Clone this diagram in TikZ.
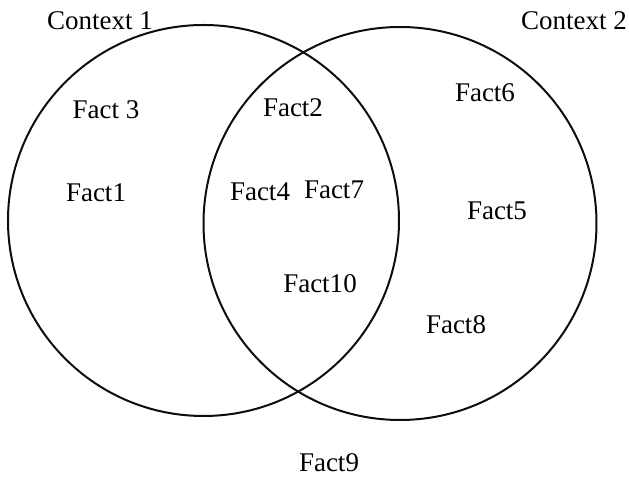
\documentclass[tikz,border=0pt]{standalone}
\usepackage{fontspec}
\setmainfont{Liberation Serif}
\usepackage{tikz}
\def\normaledge{0.8}
\definecolor{edgeblack}{rgb}{0.05,0.05,0.05}
\tikzset{fact/.style={inner sep=0pt, font=\fontsize{10.8}{13}\selectfont}}

\begin{document}
\begin{tikzpicture}[x = 0.4pt, y = -0.4pt, scale = 1]
            
            \useasboundingbox (0,0) rectangle (629,478);
            
            \node (c1) at (203.5,220.5){};
            \node (c2) at (400,223.5){};
            
            \draw [line width=\normaledge, color=edgeblack] (c1.center) circle (195.5);
            \draw [line width=\normaledge, color=edgeblack] (c2.center) circle (196.5);
            
            \node[fact] (ctx1) at (100,21){Context 1};
            \node[fact] (ctx2) at (574,21){Context 2};
            
            \node[fact] (f3) at (106,110){Fact 3};
            \node[fact] (f1) at (96,193){Fact1};
            \node[fact] (f2) at (293,108){Fact2};
            \node[fact] (f4) at (260,192){Fact4};
            \node[fact] (f7) at (334,190){Fact7};
            \node[fact] (f10) at (320,284){Fact10};
            \node[fact] (f6) at (485,93){Fact6};
            \node[fact] (f5) at (497,211){Fact5};
            \node[fact] (f8) at (456,325){Fact8};
            \node[fact] (f9) at (329,463){Fact9};
            
        \end{tikzpicture}
\end{document}
